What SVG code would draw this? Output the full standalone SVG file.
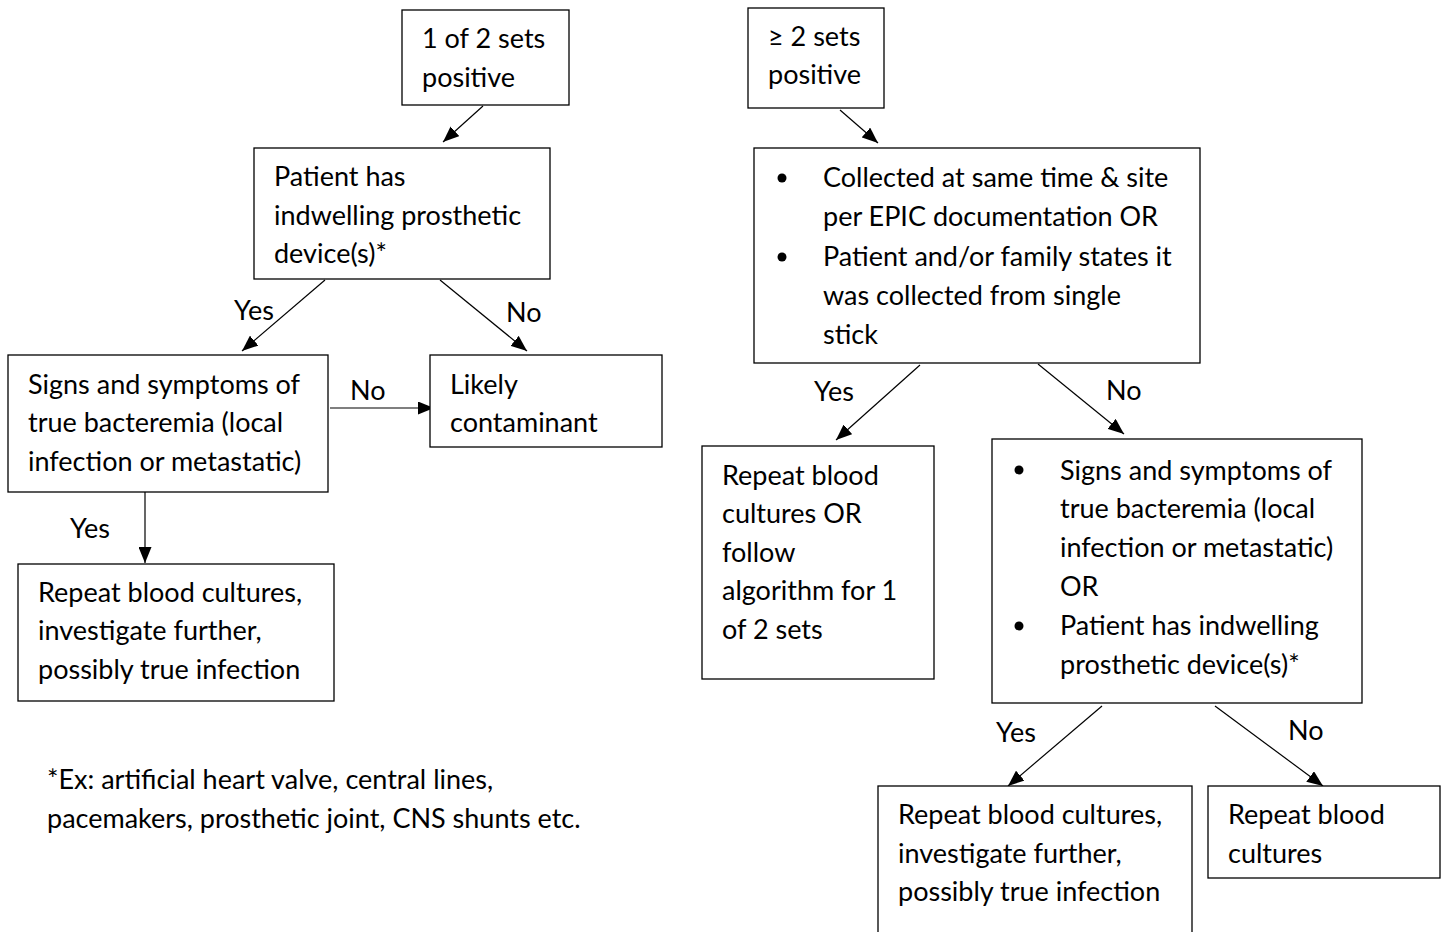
<svg xmlns="http://www.w3.org/2000/svg" width="1444" height="932" viewBox="0 0 1444 932">
<defs>
<marker id="ah" viewBox="0 0 16 13" refX="16" refY="6.5" markerWidth="16" markerHeight="13" markerUnits="userSpaceOnUse" orient="auto">
<path d="M0,0 L16,6.5 L0,13 Z" fill="#000"/>
</marker>
</defs>
<style>
.box{fill:#fff;stroke:#000;stroke-width:1.3}
text{font-family:Lato,"Open Sans","Liberation Sans",sans-serif;font-size:27px;fill:#000}
.c{stroke:#000;stroke-width:1.2;fill:none;marker-end:url(#ah)}
.b{fill:#000}
</style>
<rect width="1444" height="932" fill="#fff"/>
<g id="connectors">
<line class="c" x1="483" y1="106" x2="443" y2="142"/>
<line class="c" x1="325" y1="280" x2="242" y2="351"/>
<line class="c" x1="440" y1="280" x2="527" y2="351"/>
<line class="c" x1="330" y1="408" x2="434" y2="408"/>
<line class="c" x1="145" y1="492" x2="145" y2="563"/>
<line class="c" x1="840" y1="110" x2="878" y2="143"/>
<line class="c" x1="920" y1="365" x2="836" y2="440"/>
<line class="c" x1="1038" y1="364" x2="1124" y2="434"/>
<line class="c" x1="1102" y1="706" x2="1008" y2="786"/>
<line class="c" x1="1215" y1="706" x2="1323" y2="786"/>
<text x="234" y="320">Yes</text>
<text x="506" y="322">No</text>
<text x="350" y="400">No</text>
<text x="70" y="538">Yes</text>
<text x="814" y="401">Yes</text>
<text x="1106" y="400">No</text>
<text x="996" y="742">Yes</text>
<text x="1288" y="740">No</text>
</g>
<g id="n1"><rect class="box" x="402" y="10" width="167" height="95"/>
<text x="422" y="48">1 of 2 sets</text><text x="422" y="87">positive</text></g>
<g id="n2"><rect class="box" x="254" y="148" width="296" height="131"/>
<text x="274" y="186">Patient has</text><text x="274" y="225">indwelling prosthetic</text><text x="274" y="263">device(s)*</text></g>
<g id="n3"><rect class="box" x="8" y="355" width="320" height="137"/>
<text x="28" y="394">Signs and symptoms of</text><text x="28" y="432">true bacteremia (local</text><text x="28" y="471">infection or metastatic)</text></g>
<g id="n4"><rect class="box" x="430" y="355" width="232" height="92"/>
<text x="450" y="394">Likely</text><text x="450" y="432">contaminant</text></g>
<g id="n5"><rect class="box" x="18" y="564" width="316" height="137"/>
<text x="38" y="602">Repeat blood cultures,</text><text x="38" y="640">investigate further,</text><text x="38" y="679">possibly true infection</text></g>
<g id="n6"><rect class="box" x="748" y="8" width="136" height="100"/>
<text x="768" y="46">≥ 2 sets</text><text x="768" y="84">positive</text></g>
<g id="n7"><rect class="box" x="754" y="148" width="446" height="215"/>
<circle class="b" cx="782" cy="178" r="4.5"/><circle class="b" cx="782" cy="257" r="4.5"/>
<text x="823" y="187">Collected at same time &amp; site</text><text x="823" y="226">per EPIC documentation OR</text><text x="823" y="266">Patient and/or family states it</text><text x="823" y="305">was collected from single</text><text x="823" y="344">stick</text></g>
<g id="n8"><rect class="box" x="702" y="446" width="232" height="233"/>
<text x="722" y="485">Repeat blood</text><text x="722" y="523">cultures OR</text><text x="722" y="562">follow</text><text x="722" y="600">algorithm for 1</text><text x="722" y="639">of 2 sets</text></g>
<g id="n9"><rect class="box" x="992" y="439" width="370" height="264"/>
<circle class="b" cx="1019" cy="470" r="4.5"/><circle class="b" cx="1019" cy="626" r="4.5"/>
<text x="1060" y="480">Signs and symptoms of</text><text x="1060" y="518">true bacteremia (local</text><text x="1060" y="557">infection or metastatic)</text><text x="1060" y="596">OR</text><text x="1060" y="635">Patient has indwelling</text><text x="1060" y="674">prosthetic device(s)*</text></g>
<g id="n10"><rect class="box" x="878" y="786" width="314" height="160"/>
<text x="898" y="824">Repeat blood cultures,</text><text x="898" y="863">investigate further,</text><text x="898" y="901">possibly true infection</text></g>
<g id="n11"><rect class="box" x="1208" y="786" width="232" height="92"/>
<text x="1228" y="824">Repeat blood</text><text x="1228" y="863">cultures</text></g>
<g id="footnote">
<text x="47" y="789">*Ex: artificial heart valve, central lines,</text>
<text x="47" y="828">pacemakers, prosthetic joint, CNS shunts etc.</text>
</g>
</svg>
